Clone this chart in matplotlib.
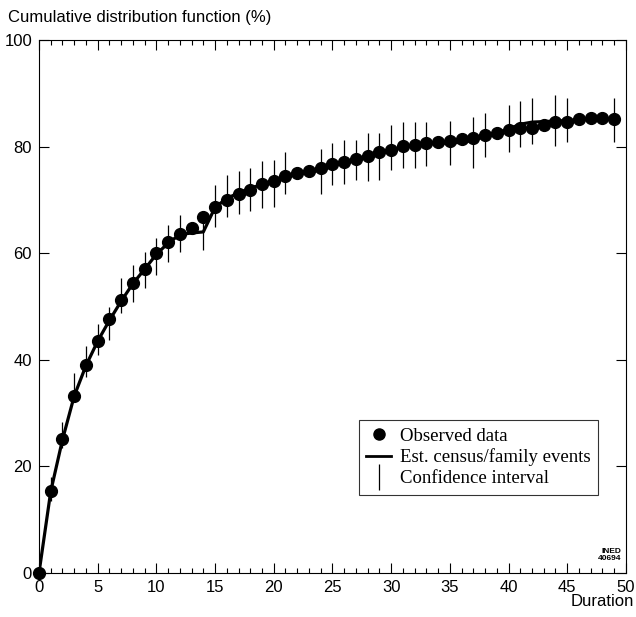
import numpy as np
from matplotlib import pyplot as plt
from matplotlib.lines import Line2D
from matplotlib.ticker import MultipleLocator

# observed cumulative distribution (%) by duration
duration = np.arange(0, 50)
observed = [0, 15.3, 25.1, 33.3, 39.0, 43.6, 47.6, 51.2, 54.4, 57.0,
            60.0, 62.2, 63.6, 64.7, 66.8, 68.6, 70.0, 71.1, 71.9, 72.9,
            73.6, 74.4, 75.0, 75.5, 75.9, 76.7, 77.2, 77.6, 78.2, 78.9,
            79.4, 80.1, 80.3, 80.6, 80.9, 81.1, 81.4, 81.7, 82.2, 82.5,
            83.2, 83.5, 83.5, 84.1, 84.7, 84.7, 85.1, 85.3, 85.3, 85.2]

# estimated curve (census/family events)
estimated = [0, 15.3, 25.0, 33.2, 38.9, 43.5, 47.4, 51.0, 54.3, 57.0,
             59.8, 61.9, 63.5, 63.8, 64.0, 68.6, 70.3, 71.3, 72.2, 72.9,
             73.6, 74.4, 74.9, 75.2, 75.6, 76.5, 77.1, 77.5, 78.1, 78.7,
             79.3, 80.0, 80.3, 80.5, 80.6, 80.7, 80.8, 81.2, 81.9, 82.6,
             83.3, 84.2, 84.6, 84.7, 84.8, 84.9, 85.0, 85.1, 85.2, 85.2]

# confidence intervals (only drawn at some durations)
ci_x = [1, 2, 3, 4, 5, 6, 7, 8, 9, 10, 11, 12, 14, 15, 16, 17, 18, 19, 20,
        21, 24, 25, 26, 27, 28, 29, 30, 31, 32, 33, 35, 37, 38, 40, 41, 42,
        44, 45, 49]
ci_lo = [13.5, 23.4, 32.1, 36.8, 40.9, 43.7, 48.7, 50.9, 53.4, 55.9, 58.4,
         60.3, 60.6, 65.0, 66.8, 67.3, 67.9, 68.4, 68.7, 71.1, 71.2, 72.8,
         72.9, 73.7, 73.5, 73.7, 75.7, 75.9, 75.9, 76.4, 76.5, 76.0, 78.1,
         79.0, 79.9, 80.5, 80.1, 80.9, 80.9]
ci_hi = [18.0, 28.4, 37.5, 42.5, 46.8, 50.0, 55.3, 57.8, 60.3, 62.8, 65.3,
         67.2, 67.5, 72.8, 74.7, 75.4, 75.9, 77.3, 77.5, 78.9, 79.5, 80.7,
         81.2, 81.2, 82.5, 82.5, 84.0, 84.7, 84.7, 84.7, 84.8, 85.6, 86.4,
         87.8, 88.6, 89.2, 89.7, 89.2, 89.2]

plt.rcParams["font.family"] = "Liberation Sans"
plt.rcParams["font.size"] = 12

fig = plt.figure(figsize=(6.36, 6.17), dpi=100)
ax = fig.add_axes([0.0613, 0.0713, 0.9228, 0.8638])

ax.vlines(ci_x, ci_lo, ci_hi, color="k", linewidth=0.9)
ax.plot(duration, estimated, color="k", linewidth=2.3)
ax.plot(duration, observed, color="k", marker="o", markersize=8.5,
        linestyle="", clip_on=False, zorder=5)

ax.set_xlim(0, 50)
ax.set_ylim(0, 100)
ax.xaxis.set_major_locator(MultipleLocator(5))
ax.xaxis.set_minor_locator(MultipleLocator(1))
ax.yaxis.set_major_locator(MultipleLocator(20))
ax.tick_params(which="both", direction="in", top=True, right=True,
               labelsize=12, width=0.8)
ax.tick_params(which="major", length=7, pad=5)
ax.tick_params(which="minor", length=3.5)
for s in ax.spines.values():
    s.set_linewidth(0.8)

fig.text(0.012, 0.972, "Cumulative distribution function (%)",
         fontsize=12, va="center", ha="left")
fig.text(0.997, 0.013, "Duration", fontsize=12, ha="right", va="bottom")
ax.text(0.993, 0.02, "INED\n40694", transform=ax.transAxes, fontsize=6,
        ha="right", va="bottom", fontweight="bold", linespacing=1.1)

handles = [
    Line2D([], [], color="k", marker="o", markersize=8, linestyle=""),
    Line2D([], [], color="k", linewidth=2),
    Line2D([], [], color="k", marker="|", markersize=19, linestyle="",
           markeredgewidth=0.9),
]
labels = ["Observed data", "Est. census/family events", "Confidence interval"]
leg = ax.legend(handles, labels, loc="upper left",
                bbox_to_anchor=(0.545, 0.287), borderaxespad=0,
                prop={"family": "Liberation Serif", "size": 13.5},
                frameon=True, fancybox=False, handlelength=1.3,
                handletextpad=0.5, labelspacing=0.2, borderpad=0.4)
leg.get_frame().set_edgecolor("k")
leg.get_frame().set_linewidth(0.8)

fig.savefig("out.png", dpi=100)
